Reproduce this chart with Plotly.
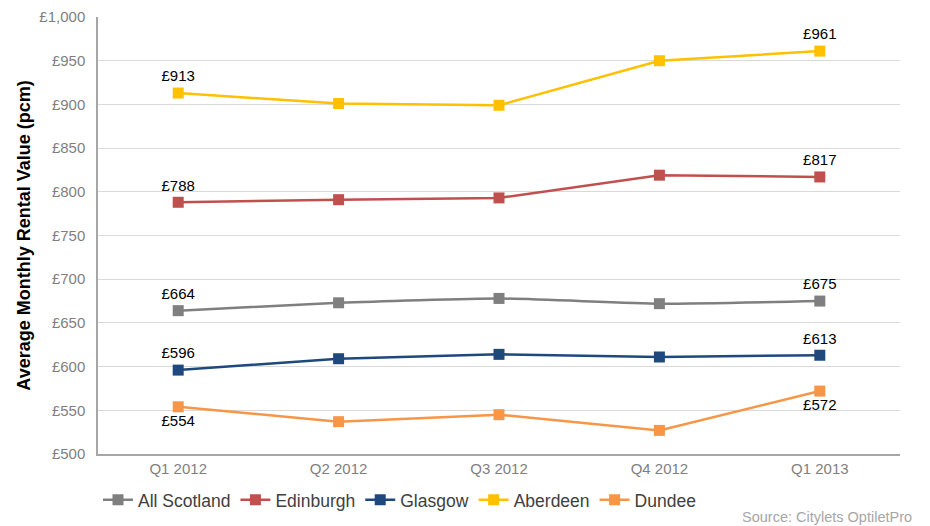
import plotly.graph_objects as go

quarters = ["Q1 2012", "Q2 2012", "Q3 2012", "Q4 2012", "Q1 2013"]
all_scotland = [664, 673, 678, 672, 675]
edinburgh = [788, 791, 793, 819, 817]
glasgow = [596, 609, 614, 611, 613]
aberdeen = [913, 901, 899, 950, 961]
dundee = [554, 537, 545, 527, 572]

series = [
    ("All Scotland", all_scotland, "#7f7f7f", "top center"),
    ("Edinburgh", edinburgh, "#c0504d", "top center"),
    ("Glasgow", glasgow, "#1f497d", "top center"),
    ("Aberdeen", aberdeen, "#ffc000", "top center"),
    ("Dundee", dundee, "#f79646", "bottom center"),
]

fig = go.Figure()
for name, vals, color, pos in series:
    labels = ["£%d" % v if i in (0, len(vals) - 1) else "" for i, v in enumerate(vals)]
    fig.add_trace(go.Scatter(
        x=quarters, y=vals, name=name, mode="lines+markers+text",
        line=dict(color=color, width=2.5, shape="spline" if name == "All Scotland" else "linear", smoothing=0.5),
        marker=dict(symbol="square", size=11, color=color),
        text=labels, textposition=pos,
        textfont=dict(family="Liberation Sans, Arial", size=15, color="#000000"),
        cliponaxis=False,
    ))

fig.update_layout(
    width=930, height=526,
    margin=dict(l=90, r=38, t=9, b=80, autoexpand=False),
    paper_bgcolor="white", plot_bgcolor="white",
    font=dict(family="Liberation Sans, Arial", size=15, color="#595959"),
    showlegend=True,
    legend=dict(orientation="h", x=0.0, xanchor="left", y=-0.105, yanchor="middle",
                font=dict(size=17.5, color="#404040"), tracegroupgap=0,
                traceorder="normal"),
    xaxis=dict(range=[-0.5, 4.5], showline=True, linecolor="#a6a6a6", linewidth=1.5, showgrid=False,
               automargin=False,
               ticks="", tickfont=dict(size=15, color="#7f7f7f"), fixedrange=True),
    yaxis=dict(range=[500, 1000], dtick=50, tickprefix="£", tickformat=",d",
               automargin=False, ticklabelstandoff=8,
               showline=True, linecolor="#a6a6a6", linewidth=1.5,
               gridcolor="#d9d9d9", gridwidth=1, ticks="", zeroline=False,
               tickfont=dict(size=15, color="#7f7f7f"),
               title=dict(text="<b>Average Monthly Rental Value (pcm)</b>",
                          font=dict(size=18, color="#000000"), standoff=4)),
)
fig.add_annotation(text="Source: Citylets OptiletPro", xref="paper", yref="paper",
                   x=1.018, y=-0.145, xanchor="right", yanchor="middle", showarrow=False,
                   font=dict(size=14.5, color="#a6a6a6"))

fig.write_html("out.html")
